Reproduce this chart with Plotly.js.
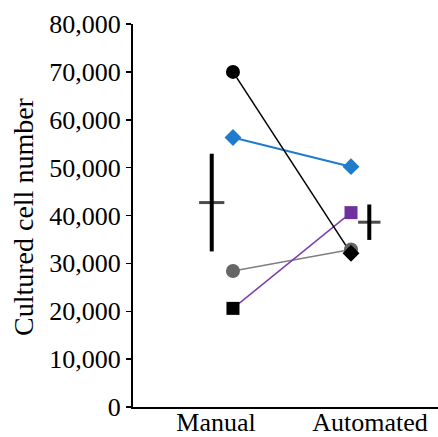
<!DOCTYPE html>
<html>
<head>
<meta charset="utf-8">
<script src="https://cdn.plot.ly/plotly-3.0.1.min.js"></script>
<style>
html,body{margin:0;padding:0;background:#fff;}
#chart{width:438px;height:437px;}
</style>
</head>
<body>
<div id="chart"></div>
<script>
const categories = ["Manual", "Automated"];
const catPos = [1, 2];
const blackCircleSeries = [70000, 32100];
const blueSeries = [56300, 50200];
const graySeries = [28400, 32900];
const squareSeries = [20600, 40600];
const meanValues = [42700, 38600];
const meanErrors = [10200, 3700];
const yTickVals = [0, 10000, 20000, 30000, 40000, 50000, 60000, 70000, 80000];

const serif = "Liberation Serif, Times New Roman, serif";
const meanOffsets = [-0.18, 0.155];
const labelOffsets = [-0.144, 0.161];

function lineTrace(y, color, width) {
  return {x: catPos, y: y, type: "scatter", mode: "lines",
    line: {color: color, width: width}, hoverinfo: "skip"};
}
function markerTrace(idx, y, symbol, size, color) {
  return {x: [catPos[idx]], y: [y], type: "scatter", mode: "markers",
    marker: {symbol: symbol, size: size, color: color, opacity: 1,
      line: {color: color, width: 0}}, hoverinfo: "skip"};
}

const traces = [
  lineTrace(graySeries, "#7f7f7f", 1.5),
  lineTrace(blueSeries, "#1f7ccc", 2),
  lineTrace(squareSeries, "#7b3fb0", 1.5),
  lineTrace(blackCircleSeries, "#000000", 1.5),
  markerTrace(0, graySeries[0], "circle", 14, "#666666"),
  markerTrace(1, graySeries[1], "circle", 14, "#666666"),
  markerTrace(0, blueSeries[0], "diamond", 13, "#1f7ccc"),
  markerTrace(1, blueSeries[1], "diamond", 13, "#1f7ccc"),
  markerTrace(0, squareSeries[0], "square", 13, "#000000"),
  markerTrace(1, squareSeries[1], "square", 13, "#7030a0"),
  markerTrace(0, blackCircleSeries[0], "circle", 14, "#000000"),
  markerTrace(1, blackCircleSeries[1], "diamond", 13, "#000000"),
  {
    x: catPos.map((p, i) => p + meanOffsets[i]), y: meanValues,
    type: "scatter", mode: "markers",
    marker: {symbol: "line-ew", size: [18, 16], color: "#000000", line: {color: "#000000", width: 3}},
    error_y: {type: "data", array: meanErrors, visible: true, color: "#000000", thickness: 4, width: 0},
    hoverinfo: "skip"
  }
];

const layout = {
  width: 438, height: 437,
  margin: {l: 133, r: 0, t: 24, b: 30},
  paper_bgcolor: "#ffffff", plot_bgcolor: "#ffffff",
  showlegend: false,
  font: {family: serif, size: 26, color: "#000000"},
  xaxis: {
    range: [0.153, 2.737],
    tickvals: catPos.map((p, i) => p + labelOffsets[i]),
    ticktext: categories,
    ticks: "", showgrid: false, zeroline: false,
    ticklabelstandoff: -9,
    showline: true, linecolor: "#000000", linewidth: 2,
    tickfont: {family: serif, size: 26, color: "#000000"}
  },
  yaxis: {
    range: [0, 80000],
    tickvals: yTickVals,
    tickformat: ",d",
    ticks: "outside", ticklen: 5, tickwidth: 1.5, tickcolor: "#000000",
    showgrid: false, zeroline: false,
    showline: true, linecolor: "#000000", linewidth: 2,
    tickfont: {family: serif, size: 26, color: "#000000"}
  },
  annotations: [{
    text: "Cultured cell number",
    xref: "paper", yref: "paper",
    x: (23 - 133) / 305, y: (407 - 217) / 383,
    xanchor: "center", yanchor: "middle",
    textangle: -90, showarrow: false,
    font: {family: serif, size: 28, color: "#000000"}
  }]
};

Plotly.newPlot("chart", traces, layout, {displayModeBar: false, staticPlot: true});
</script>
</body>
</html>
